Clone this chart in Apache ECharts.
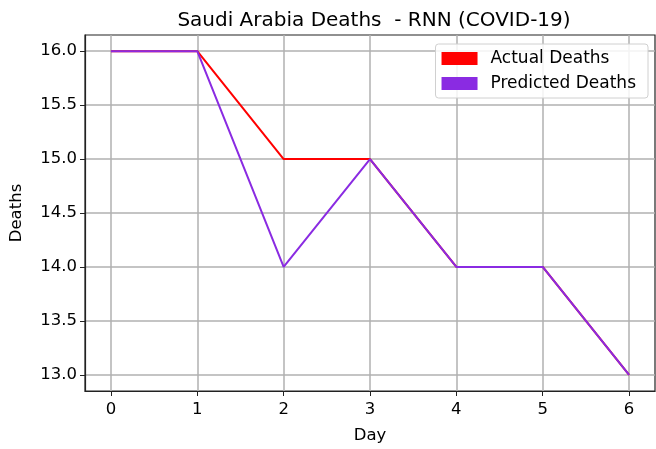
<!DOCTYPE html>
<html><head><meta charset="utf-8">
<script src="https://cdn.jsdelivr.net/npm/echarts@6/dist/echarts.min.js"></script>
<style>html,body{margin:0;padding:0;background:#fff}#c{width:656px;height:449px}</style>
</head><body><div id="c"></div>
<script>
const days = [0, 1, 2, 3, 4, 5, 6];
const actualDeaths = [16, 16, 15, 15, 14, 14, 13];
const predictedDeaths = [16, 16, 14, 15, 14, 14, 13];
const yTicks = [13.0, 13.5, 14.0, 14.5, 15.0, 15.5, 16.0];
const xTicks = [0, 1, 2, 3, 4, 5, 6];

const font = 'DejaVu Sans';
const chart = echarts.init(document.getElementById('c'), null, {renderer: 'canvas'});
chart.setOption({
  animation: false,
  backgroundColor: '#fff',
  title: {
    text: 'Saudi Arabia Deaths  - RNN (COVID-19)',
    left: 369, top: 6, textAlign: 'center',
    textStyle: {fontFamily: font, fontSize: 20, fontWeight: 'normal', color: '#000'}
  },
  legend: {
    right: 8, top: 44, orient: 'vertical',
    padding: [6, 12, 6, 6], itemGap: 8,
    itemWidth: 36, itemHeight: 13,
    backgroundColor: 'rgba(255,255,255,0.85)',
    borderColor: '#d0d0d0', borderWidth: 1, borderRadius: 3,
    textStyle: {fontFamily: font, fontSize: 17, color: '#000', padding: [0, 0, 0, 8]},
    data: [
      {name: 'Actual Deaths', icon: 'rect'},
      {name: 'Predicted Deaths', icon: 'rect'}
    ]
  },
  grid: {left: 83, right: 1, top: 35, bottom: 53, show: true, borderColor: '#222', borderWidth: 1.2, containLabel: false},
  xAxis: {
    type: 'value', min: -0.3, max: 6.3,
    name: 'Day', nameLocation: 'middle', nameGap: 36,
    nameTextStyle: {fontFamily: font, fontSize: 16.5, color: '#000'},
    axisLine: {show: true, onZero: false, lineStyle: {color: '#222', width: 1.2}},
    axisTick: {show: true, length: 5, lineStyle: {color: '#222'}, customValues: xTicks},
    axisLabel: {fontFamily: font, fontSize: 16.5, color: '#000', margin: 10, customValues: xTicks, formatter: v => String(v)},
    splitLine: {show: true, lineStyle: {color: '#b0b0b0', width: 1.5}}
  },
  yAxis: {
    type: 'value', min: 12.85, max: 16.15,
    name: 'Deaths', nameLocation: 'middle', nameGap: 60, nameRotate: 90,
    nameTextStyle: {fontFamily: font, fontSize: 16.5, color: '#000'},
    axisLine: {show: true, onZero: false, lineStyle: {color: '#222', width: 1.2}},
    axisTick: {show: true, length: 5, lineStyle: {color: '#222'}, customValues: yTicks},
    axisLabel: {fontFamily: font, fontSize: 16.5, color: '#000', margin: 8, customValues: yTicks, formatter: v => v.toFixed(1)},
    splitLine: {show: true, lineStyle: {color: '#b0b0b0', width: 1.5}}
  },
  series: [
    {
      name: 'Actual Deaths', type: 'line', color: '#ff0000',
      data: days.map((d, i) => [d, actualDeaths[i]]),
      showSymbol: false, symbol: 'none', lineStyle: {width: 2, color: '#ff0000'}, z: 2
    },
    {
      name: 'Predicted Deaths', type: 'line', color: '#8a2be2',
      data: days.map((d, i) => [d, predictedDeaths[i]]),
      showSymbol: false, symbol: 'none', lineStyle: {width: 2, color: '#8a2be2'}, z: 3
    }
  ]
});
</script></body></html>
